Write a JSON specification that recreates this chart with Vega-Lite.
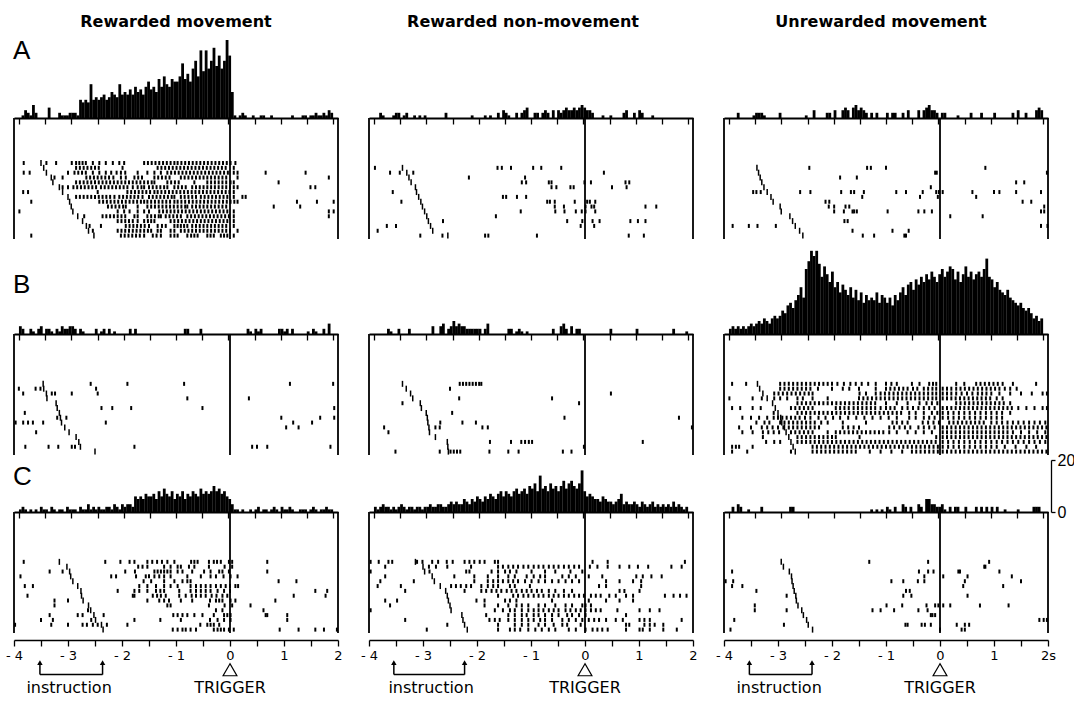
{
"$schema":"https://vega.github.io/schema/vega-lite/v6.json",
"autosize":{"type":"pad"},
"padding":{"left":5,"top":14,"right":0,"bottom":0},
"background":"white",
"config":{"view":{"stroke":null},"axis":{"grid":false}},
"datasets":{
"h":[
{"p":"A1","t":[-4,-3.95,-3.9,-3.85,-3.8,-3.75,-3.7,-3.65,-3.6,-3.55,-3.5,-3.45,-3.4,-3.35,-3.3,-3.25,-3.2,-3.15,-3.1,-3.05,-3,-2.95,-2.9,-2.85,-2.8,-2.75,-2.7,-2.65,-2.6,-2.55,-2.5,-2.45,-2.4,-2.35,-2.3,-2.25,-2.2,-2.15,-2.1,-2.05,-2,-1.95,-1.9,-1.85,-1.8,-1.75,-1.7,-1.65,-1.6,-1.55,-1.5,-1.45,-1.4,-1.35,-1.3,-1.25,-1.2,-1.15,-1.1,-1.05,-1,-0.95,-0.9,-0.85,-0.8,-0.75,-0.7,-0.65,-0.6,-0.55,-0.5,-0.45,-0.4,-0.35,-0.3,-0.25,-0.2,-0.15,-0.1,-0.05,0,0.05,0.1,0.15,0.2,0.25,0.3,0.35,0.4,0.45,0.5,0.55,0.6,0.65,0.7,0.75,0.8,0.85,0.9,0.95,1,1.05,1.1,1.15,1.2,1.25,1.3,1.35,1.4,1.45,1.5,1.55,1.6,1.65,1.7,1.75,1.8,1.85,1.9,1.95],
 "c":[0,1,3,2,1,5,2,0,0,0,0,4,0,0,0,2,1,1,1,2,2,2,1,7,6,7,6,13,7,8,7,8,9,7,8,10,9,8,13,9,10,9,11,9,12,10,11,9,12,14,11,12,10,15,12,16,13,12,15,14,14,16,21,15,17,14,19,22,16,26,18,26,19,22,27,20,24,19,22,30,24,10,1,0,1,2,1,0,0,1,0,0,1,1,0,0,1,0,0,0,0,0,0,0,1,0,0,0,1,1,0,1,1,2,1,1,2,1,3,2]},
{"p":"A2","t":[-3.9,-3.85,-3.65,-3.6,-3.55,-3.45,-3.4,-3.25,-3.15,-3.05,-2.65,-2.15,-1.9,-1.8,-1.65,-1.55,-1.5,-1.45,-1.3,-1.2,-1.15,-1.1,-0.95,-0.9,-0.8,-0.75,-0.7,-0.6,-0.5,-0.45,-0.4,-0.35,-0.3,-0.25,-0.2,-0.15,-0.1,-0.05,0,0.05,0.1,0.15,0.35,0.5,0.75,0.8,0.95,1.05,1.1,1.3],
 "c":[2,1,1,2,2,1,2,1,1,1,2,1,1,1,2,3,2,1,2,2,3,4,2,2,2,3,2,3,3,2,3,4,3,3,4,3,4,5,4,3,3,2,1,1,2,3,2,3,2,1]},
{"p":"A3","t":[-3.85,-3.55,-3.5,-3.45,-3.4,-3.35,-3.05,-2.55,-2.4,-2.15,-2.1,-2,-1.85,-1.8,-1.75,-1.65,-1.6,-1.55,-1.5,-1.45,-1.4,-1.3,-1.2,-1,-0.9,-0.85,-0.7,-0.6,-0.4,-0.3,-0.25,-0.2,-0.15,-0.1,-0.05,0.05,0.1,0.35,0.6,0.8,1.05,1.4,1.5,1.65,1.85,1.9,1.95],
 "c":[2,1,2,2,2,1,2,1,3,2,2,3,3,4,3,4,5,3,4,3,2,2,2,2,2,2,2,3,3,3,4,5,3,3,2,2,2,1,2,2,2,2,3,2,3,4,3]},
{"p":"B1","t":[-4,-3.95,-3.8,-3.75,-3.65,-3.6,-3.5,-3.45,-3.4,-3.3,-3.25,-3.2,-3.15,-3.1,-3.05,-3,-2.95,-2.85,-2.8,-2.55,-2.45,-2.4,-2.3,-2.2,-1.9,-1.8,-0.85,-0.8,-0.55,0.35,0.4,0.5,0.55,0.6,0.95,1,1.05,1.1,1.2,1.5,1.6,1.65,1.8,1.9],
 "c":[3,2,2,1,2,3,2,2,1,2,1,3,2,2,3,3,2,2,1,2,1,2,2,1,2,2,2,2,2,2,1,2,1,2,2,2,1,2,2,1,2,1,2,4]},
{"p":"B2","t":[-3.75,-3.7,-3.55,-3.35,-2.9,-2.75,-2.7,-2.6,-2.55,-2.5,-2.45,-2.4,-2.35,-2.3,-2.25,-2.2,-2.15,-2.1,-2.05,-2,-1.9,-1.85,-1.45,-1.4,-1.3,-1.25,-1.2,-1.1,-0.6,-0.45,-0.4,-0.35,-0.25,-0.15,-0.1,0.5,1,1.7,1.95],
 "c":[2,1,2,2,3,3,4,2,3,5,3,4,3,3,2,2,2,2,2,2,2,4,2,2,1,2,1,1,2,3,4,2,3,2,2,2,2,2,1]},
{"p":"B3","t":[-4,-3.95,-3.9,-3.85,-3.8,-3.75,-3.7,-3.65,-3.6,-3.55,-3.5,-3.45,-3.4,-3.35,-3.3,-3.25,-3.2,-3.15,-3.1,-3.05,-3,-2.95,-2.9,-2.85,-2.8,-2.75,-2.7,-2.65,-2.6,-2.55,-2.5,-2.45,-2.4,-2.35,-2.3,-2.25,-2.2,-2.15,-2.1,-2.05,-2,-1.95,-1.9,-1.85,-1.8,-1.75,-1.7,-1.65,-1.6,-1.55,-1.5,-1.45,-1.4,-1.35,-1.3,-1.25,-1.2,-1.15,-1.1,-1.05,-1,-0.95,-0.9,-0.85,-0.8,-0.75,-0.7,-0.65,-0.6,-0.55,-0.5,-0.45,-0.4,-0.35,-0.3,-0.25,-0.2,-0.15,-0.1,-0.05,0,0.05,0.1,0.15,0.2,0.25,0.3,0.35,0.4,0.45,0.5,0.55,0.6,0.65,0.7,0.75,0.8,0.85,0.9,0.95,1,1.05,1.1,1.15,1.2,1.25,1.3,1.35,1.4,1.45,1.5,1.55,1.6,1.65,1.7,1.75,1.8,1.85,1.9,1.95],
 "c":[2,3,2,3,2,3,2,3,4,3,4,5,4,6,5,4,6,7,6,7,9,8,11,12,10,13,15,18,14,25,28,32,30,32,27,22,26,23,20,24,18,20,16,19,17,15,18,14,17,13,16,12,15,13,14,13,16,12,15,14,12,14,11,15,13,16,18,15,19,20,17,21,19,22,20,23,21,24,22,20,23,25,22,24,26,25,21,24,20,23,26,22,24,21,23,24,22,25,29,22,21,18,20,17,16,15,17,14,13,12,11,12,10,9,10,8,6,7,5,6]},
{"p":"C1","t":[-4,-3.95,-3.9,-3.85,-3.8,-3.75,-3.7,-3.65,-3.6,-3.55,-3.5,-3.45,-3.4,-3.35,-3.3,-3.25,-3.2,-3.15,-3.1,-3.05,-3,-2.95,-2.9,-2.85,-2.8,-2.75,-2.7,-2.65,-2.6,-2.55,-2.5,-2.45,-2.4,-2.35,-2.3,-2.25,-2.2,-2.15,-2.1,-2.05,-2,-1.95,-1.9,-1.85,-1.8,-1.75,-1.7,-1.65,-1.6,-1.55,-1.5,-1.45,-1.4,-1.35,-1.3,-1.25,-1.2,-1.15,-1.1,-1.05,-1,-0.95,-0.9,-0.85,-0.8,-0.75,-0.7,-0.65,-0.6,-0.55,-0.5,-0.45,-0.4,-0.35,-0.3,-0.25,-0.2,-0.15,-0.1,-0.05,0,0.05,0.1,0.15,0.2,0.25,0.3,0.35,0.4,0.45,0.5,0.55,0.6,0.65,0.7,0.75,0.8,0.85,0.9,0.95,1,1.05,1.1,1.15,1.2,1.25,1.3,1.35,1.4,1.45,1.5,1.55,1.6,1.65,1.7,1.75,1.8,1.85,1.9,1.95],
 "c":[1,2,1,0,1,0,1,0,2,1,1,0,2,1,0,1,1,0,2,1,1,1,0,2,1,1,3,1,2,1,2,1,1,2,2,1,3,2,1,3,2,3,3,2,6,5,6,5,7,6,6,7,5,8,6,9,7,6,8,5,7,6,8,5,7,6,8,7,6,9,7,8,7,8,10,8,9,7,8,6,5,3,1,1,0,1,0,0,1,0,1,2,0,1,1,0,1,2,1,0,2,1,1,2,1,0,0,1,1,1,0,1,2,1,0,1,1,2,1,1]},
{"p":"C2","t":[-4,-3.95,-3.9,-3.85,-3.8,-3.75,-3.7,-3.65,-3.6,-3.55,-3.5,-3.45,-3.4,-3.35,-3.3,-3.25,-3.2,-3.15,-3.1,-3.05,-3,-2.95,-2.9,-2.85,-2.8,-2.75,-2.7,-2.65,-2.6,-2.55,-2.5,-2.45,-2.4,-2.35,-2.3,-2.25,-2.2,-2.15,-2.1,-2.05,-2,-1.95,-1.9,-1.85,-1.8,-1.75,-1.7,-1.65,-1.6,-1.55,-1.5,-1.45,-1.4,-1.35,-1.3,-1.25,-1.2,-1.15,-1.1,-1.05,-1,-0.95,-0.9,-0.85,-0.8,-0.75,-0.7,-0.65,-0.6,-0.55,-0.5,-0.45,-0.4,-0.35,-0.3,-0.25,-0.2,-0.15,-0.1,-0.05,0,0.05,0.1,0.15,0.2,0.25,0.3,0.35,0.4,0.45,0.5,0.55,0.6,0.65,0.7,0.75,0.8,0.85,0.9,0.95,1,1.05,1.1,1.15,1.2,1.25,1.3,1.35,1.4,1.45,1.5,1.55,1.6,1.65,1.7,1.75,1.8,1.85,1.9,1.95],
 "c":[2,1,2,3,2,2,1,2,1,2,3,2,1,2,2,1,2,2,1,2,2,3,2,2,3,3,2,2,3,4,3,4,3,3,5,4,3,5,4,6,5,4,6,5,7,6,5,7,8,6,8,7,6,8,9,7,8,9,7,10,9,11,8,14,9,10,8,11,9,10,8,10,12,9,11,12,10,9,11,16,8,6,7,6,5,5,4,6,5,4,4,3,4,5,7,3,4,3,3,4,3,2,4,3,2,3,4,2,3,2,3,2,3,2,4,2,3,2,1,2]},
{"p":"C3","t":[-3.95,-3.85,-3.8,-3.65,-3.4,-2.85,-2.8,-1.3,-1.2,-1.1,-1,-0.95,-0.85,-0.7,-0.65,-0.55,-0.4,-0.35,-0.25,-0.2,-0.15,-0.1,-0.05,0,0.05,0.1,0.2,0.3,0.35,0.5,0.7,0.8,0.9,1,1.1,1.25,1.5,1.8,1.85,1.9],
 "c":[2,3,2,1,2,2,2,1,1,1,2,1,2,3,2,2,3,2,5,5,3,3,2,2,3,1,2,2,2,2,2,2,2,2,2,1,1,2,2,2]}
],
"r":[
{"p":"A1","r":16,"i":-3.5,"s":[-3.82,-3.4,-3.22,-2.93,-2.85,-2.79,-2.73,-2.67,-2.54,-2.42,-2.3,-2.17,-2.05,-1.96,-1.59,-1.52,-1.45,-1.38,-1.31,-1.24,-1.17,-1.1,-1.03,-0.97,-0.9,-0.83,-0.76,-0.69,-0.62,-0.55,-0.48,-0.41,-0.34,-0.27,-0.2,-0.13,-0.06,0.01,0.1]},
{"p":"A1","r":15,"i":-3.45,"s":[-2.85,-2.78,-2.71,-2.64,-2.57,-2.5,-2.43,-1.99,-1.34,-1.27,-1.2,-1.13,-1.06,-0.99,-0.92,-0.85,-0.78,-0.71,-0.64,-0.57,-0.5,-0.43,-0.36,-0.29,-0.22,-0.15,-0.08,0.07]},
{"p":"A1","r":14,"i":-3.4,"s":[-3.82,-3.71,-3,-2.88,-2.81,-2.74,-2.67,-2.54,-2.42,-2.3,-2.2,-2.1,-2.02,-1.94,-1.71,-1.53,-1.4,-1.28,-1.16,-1.09,-1.02,-0.95,-0.88,-0.81,-0.74,-0.67,-0.6,-0.53,-0.46,-0.39,-0.32,-0.25,-0.18,-0.11,-0.04,0.07,0.14,0.66,1.4]},
{"p":"A1","r":13,"i":-3.31,"s":[-3.25,-3.1,-2.66,-2.59,-2.52,-2.45,-2.38,-2.31,-2.24,-2.16,-2.02,-1.93,-1.77,-1.7,-1.63,-1.4,-1.33,-1.26,-1.19,-1.12,-0.91,-0.84,-0.77,-0.7,-0.63,-0.56,-0.49,-0.42,-0.35,-0.28,-0.21,-0.14,-0.07,0.14,1.83]},
{"p":"A1","r":12,"i":-3.28,"s":[-2.85,-2.78,-2.71,-2.64,-2.57,-2.5,-2.43,-2.36,-2.29,-2.22,-2.15,-2.08,-2.01,-1.94,-1.87,-1.8,-1.73,-1.66,-1.59,-1.52,-1.45,-1.4,-1.16,-1.09,-1.02,-0.95,-0.66,-0.42,-0.35,-0.28,-0.21,-0.14,-0.07,0.01,0.07,0.9]},
{"p":"A1","r":11,"i":-3.16,"s":[-3.1,-3,-2.9,-2.83,-2.76,-2.69,-2.62,-2.55,-2.48,-2.39,-2.32,-2.25,-2.18,-2.11,-2.04,-1.97,-1.9,-1.8,-1.71,-1.64,-1.59,-1.5,-1.43,-1.36,-1.29,-1.22,-1.16,-1.03,-0.96,-0.89,-0.82,-0.7,-0.63,-0.56,-0.49,-0.42,-0.35,-0.28,-0.21,-0.14,-0.07,0,0.07,0.14,1.49,1.58]},
{"p":"A1","r":10,"i":-3.1,"s":[-3.83,-3.74,-2.45,-1.9,-1.83,-1.76,-1.69,-1.62,-1.55,-1.48,-1.4,-1.34,-1.27,-1.2,-1.13,-1.06,-0.99,-0.92,-0.85,-0.78,-0.71,-0.64,-0.57,-0.5,-0.43,-0.36,-0.29,-0.22,-0.15,-0.08,-0.01,0.07]},
{"p":"A1","r":9,"i":-3,"s":[-2.85,-2.78,-2.71,-2.64,-2.57,-2.5,-2.43,-2.36,-2.29,-2.22,-2.14,-2.05,-1.98,-1.91,-1.84,-1.77,-1.7,-1.62,-1.5,-1.43,-1.36,-1.29,-1.22,-1.15,-1.08,-1.03,-0.91,-0.84,-0.77,-0.7,-0.63,-0.54,-0.47,-0.4,-0.33,-0.26,-0.19,-0.12,-0.05,0.07,0.23,0.29]},
{"p":"A1","r":8,"i":-2.97,"s":[-3.68,-2.42,-2.35,-2.28,-2.21,-2.14,-2.07,-2,-1.93,-1.86,-1.79,-1.72,-1.65,-1.59,-1.53,-1.46,-1.39,-1.32,-1.25,-1.18,-1.11,-1.03,-0.97,-0.9,-0.83,-0.76,-0.69,-0.62,-0.55,-0.48,-0.41,-0.34,-0.27,-0.2,-0.13,-0.06,0.01,0.08,0.14,1.24,1.61,1.92]},
{"p":"A1","r":7,"i":-2.94,"s":[-2.26,-2.19,-2.12,-2.05,-1.98,-1.93,-1.71,-1.53,-1.46,-1.39,-1.32,-1.25,-1.18,-1.11,-1.04,-0.97,-0.9,-0.83,-0.79,-0.7,-0.63,-0.56,-0.49,-0.42,-0.35,-0.28,-0.21,-0.14,-0.07,0.81,1.3]},
{"p":"A1","r":6,"i":-2.91,"s":[-3.9,-2.08,-1.96,-1.86,-1.71,-1.59,-1.5,-1.31,-1.24,-1.17,-1.1,-1.03,-0.96,-0.89,-0.82,-0.75,-0.68,-0.61,-0.54,-0.47,-0.4,-0.33,-0.26,-0.19,-0.12,-0.05,0.07,1.83,1.92]},
{"p":"A1","r":5,"i":-2.82,"s":[-2.7,-2.36,-2.29,-2.22,-2.15,-2.08,-2.01,-1.94,-1.77,-1.71,-1.53,-1.46,-1.39,-1.32,-1.28,-1.19,-1.12,-1.05,-0.98,-0.91,-0.79,-0.72,-0.65,-0.58,-0.51,-0.44,-0.37,-0.3,-0.23,-0.16,-0.09,-0.02,0.07,1.83]},
{"p":"A1","r":4,"i":-2.73,"s":[-2.08,-2.01,-1.94,-1.87,-1.8,-1.71,-1.59,-1.52,-1.46,-1.4,-1.1,-1.03,-0.96,-0.89,-0.82,-0.75,-0.68,-0.61,-0.54,-0.47,-0.4,-0.33,-0.26,-0.19,-0.12,-0.05,0.07]},
{"p":"A1","r":3,"i":-2.66,"s":[-2.6,-2.39,-1.93,-1.86,-1.79,-1.72,-1.65,-1.58,-1.5,-1.34,-1.26,-1.19,-1.03,-0.97,-0.91,-0.85,-0.79,-0.7,-0.63,-0.56,-0.49,-0.42,-0.35,-0.28,-0.21,-0.14,-0.07,0.07]},
{"p":"A1","r":2,"i":-2.62,"s":[-2.54,-2.08,-2.01,-1.94,-1.87,-1.8,-1.73,-1.66,-1.59,-1.52,-1.46,-1.34,-1.28,-1.1,-1.03,-0.91,-0.84,-0.77,-0.7,-0.63,-0.56,-0.49,-0.42,-0.35,-0.28,-0.21,-0.14,-0.07,0,0.14]},
{"p":"A1","r":1,"i":-2.52,"s":[-3.68,-2.02,-1.95,-1.88,-1.81,-1.74,-1.67,-1.59,-1.43,-1.36,-1.28,-1.1,-1.03,-0.97,-0.79,-0.72,-0.66,-0.6,-0.42,-0.36,-0.3,-0.17,-0.11,-0.05,0.07]},
{"p":"A2","r":15,"i":-3.38,"s":[-3.89,-1.62,-1.54,-1.37,-0.96,-0.81,-0.44]},
{"p":"A2","r":14,"i":-3.3,"s":[-3.61,-3.43,-3.18,0.35]},
{"p":"A2","r":13,"i":-3.26,"s":[-2.15,-1.11]},
{"p":"A2","r":12,"i":-3.22,"s":[-1.17,-1.09,-0.67,-0.62,-0.01,0.11,0.75,0.82]},
{"p":"A2","r":11,"i":-3.14,"s":[-0.62,-0.53,-0.27,-0.21,0.5,0.77]},
{"p":"A2","r":10,"i":-3.12,"s":[-3.56]},
{"p":"A2","r":9,"i":-3.08,"s":[-1.52,-1.46,-1.26,-1.09]},
{"p":"A2","r":8,"i":-3.04,"s":[-3.4,-0.7,-0.65,-0.56,-0.19,0.04,0.09,0.19]},
{"p":"A2","r":7,"i":-3.01,"s":[-0.56,-0.39,0.01,0.12,0.17,1.12,1.32]},
{"p":"A2","r":6,"i":-2.97,"s":[-1.19,-0.55,-0.38,-0.17,-0.06,0.01,0.19]},
{"p":"A2","r":5,"i":-2.93,"s":[-1.65]},
{"p":"A2","r":4,"i":-2.9,"s":[-2.63,-0.33,-0.05,0.14,0.27,0.84,0.98,1.12]},
{"p":"A2","r":3,"i":-2.86,"s":[-3.67,-3.5,-0.08,0.17]},
{"p":"A2","r":2,"i":-2.82,"s":[-3.84]},
{"p":"A2","r":1,"i":-2.54,"s":[-3.05,-2.64,-1.85,-1.79,-0.89,0.81,1.09]},
{"p":"A3","r":15,"i":-3.39,"s":[-2.42,-1.35,-1.28,-1,0.84]},
{"p":"A3","r":14,"i":-3.36,"s":[-0.09,-0.06,1.98]},
{"p":"A3","r":13,"i":-3.33,"s":[-1.85,-1.54]},
{"p":"A3","r":12,"i":-3.3,"s":[1.41,1.56]},
{"p":"A3","r":11,"i":-3.26,"s":[-0.17]},
{"p":"A3","r":10,"i":-3.2,"s":[-3.46,-3.4,-3.32,-2.59,-2.4,-1.83,-1.65,-1.59,-1.41,-0.81,-0.63,-0.32,-0.07,-0.02,0.05,0.6,1,1.1,1.41,1.87]},
{"p":"A3","r":9,"i":-3.13,"s":[-1.44,-0.37,-0.04,0.67]},
{"p":"A3","r":8,"i":-3.09,"s":[-2.12,-2.05,1.53,1.69]},
{"p":"A3","r":7,"i":-2.96,"s":[-2.06,-1.96,-1.75,-1.68,1.93]},
{"p":"A3","r":6,"i":-2.94,"s":[-1.96,-1.78,-1.62,-1.59,-1.54,-0.97,-0.4,-0.29,-0.15,1.87,1.93]},
{"p":"A3","r":5,"i":-2.78,"s":[0.19,0.79]},
{"p":"A3","r":4,"i":-2.73,"s":[-1.77,-1.71]},
{"p":"A3","r":3,"i":-2.68,"s":[-3.84,-3.54,-3.38,-3.04,1.87,1.99]},
{"p":"A3","r":2,"i":-2.6,"s":[-1.62,-0.88,-0.58]},
{"p":"A3","r":1,"i":-2.54,"s":[-1.43,-1.22,-0.66,-0.63]},
{"p":"B1","r":15,"i":-3.46,"s":[-2.58,-1.9,-0.85,1.11,1.91]},
{"p":"B1","r":14,"i":-3.45,"s":[-3.91,-3.6,-3.51,-2.48]},
{"p":"B1","r":13,"i":-3.4,"s":[-3.83,-3.3,-3.24,-2.93,-2.45]},
{"p":"B1","r":12,"i":-3.39,"s":[-0.79,0.35]},
{"p":"B1","r":11,"i":-3.22,"s":[]},
{"p":"B1","r":10,"i":-3.2,"s":[-2.38,-2.18,-1.83,-0.51,1.93]},
{"p":"B1","r":9,"i":-3.16,"s":[-3.8]},
{"p":"B1","r":8,"i":-3.14,"s":[-3.2,-3.03,0.95,1.67,1.93]},
{"p":"B1","r":7,"i":-3.12,"s":[-3.97,-3.83,-3.74,-3.65,-3.46,-2.3,1.17,1.52]},
{"p":"B1","r":6,"i":-3.06,"s":[1.04,1.27]},
{"p":"B1","r":5,"i":-2.98,"s":[-3.59]},
{"p":"B1","r":4,"i":-2.85,"s":[]},
{"p":"B1","r":3,"i":-2.8,"s":[]},
{"p":"B1","r":2,"i":-2.77,"s":[-3.79,-3.36,-3.18,-2.93,-2.87,-1.77,0.41,0.5,0.69,1.86]},
{"p":"B1","r":1,"i":-2.5,"s":[]},
{"p":"B2","r":15,"i":-3.38,"s":[-2.32,-2.26,-2.2,-2.14,-2.08,-2.02,-1.96,-1.92]},
{"p":"B2","r":14,"i":-3.31,"s":[-2.5]},
{"p":"B2","r":13,"i":-3.23,"s":[0.48]},
{"p":"B2","r":12,"i":-3.19,"s":[-2.33,-0.61]},
{"p":"B2","r":11,"i":-3.05,"s":[-3.38,-0.11]},
{"p":"B2","r":10,"i":-3.03,"s":[]},
{"p":"B2","r":9,"i":-2.94,"s":[-2.46]},
{"p":"B2","r":8,"i":-2.92,"s":[-0.38,1.74]},
{"p":"B2","r":7,"i":-2.91,"s":[-2.68,-2.27,-2.02]},
{"p":"B2","r":6,"i":-2.89,"s":[-3.72,-2.77,-2.69,-1.9,-1.8,1.98]},
{"p":"B2","r":5,"i":-2.88,"s":[-3.64]},
{"p":"B2","r":4,"i":-2.77,"s":[]},
{"p":"B2","r":3,"i":-2.55,"s":[-1.76,-1.37,-1.18,-1.11,-1.04,-0.98,1.07]},
{"p":"B2","r":2,"i":-2.54,"s":[-0.02]},
{"p":"B2","r":1,"i":-2.53,"s":[-3.51,-2.69,-2.49,-2.43,-2.37,-2.31,-1.77,-1.42,-1.23,-0.41,-0.25]},
{"p":"B3","r":15,"i":-3.38,"s":[-3.85,-3.59,-2.96,-2.88,-2.8,-2.72,-2.64,-2.56,-2.48,-2.4,-2.32,-2.24,-2.16,-2.08,-2,-1.9,-1.78,-1.66,-1.56,-1.45,-1.33,-1.19,-1,-0.9,-0.8,-0.52,-0.38,-0.2,-0.13,-0.07,0.3,0.45,0.67,0.75,0.83,0.91,0.99,1.07,1.16,1.35,1.78]},
{"p":"B3","r":14,"i":-3.34,"s":[-2.96,-2.88,-2.8,-2.72,-2.64,-2.56,-2.48,-2.4,-2.26,-2,-1.8,-1.68,-1.5,-1.19,-1,-0.92,-0.84,-0.76,-0.68,-0.6,-0.5,-0.42,-0.3,-0.22,-0.14,-0.07,0.05,0.13,0.21,0.3,0.38,0.46,0.54,0.62,0.7,0.78,0.86,0.94,1.02,1.1,1.2,1.3,1.42]},
{"p":"B3","r":13,"i":-3.28,"s":[-3.07,-2.99,-2.91,-2.83,-2.75,-2.67,-2.59,-2.51,-2.43,-2.36,-1.49,-1.37,-1.19,-1.1,-1.02,-0.94,-0.86,-0.78,-0.7,-0.62,-0.54,-0.46,-0.38,-0.3,-0.22,-0.14,-0.07,0.05,0.13,0.21,0.3,0.4,0.5,0.6,0.7,0.78,0.86,0.95,1.1,1.3,1.5,1.7,1.9,1.98]},
{"p":"B3","r":12,"i":-3.2,"s":[-3.9,-3.47,-3.3,-3.07,-2.96,-2.83,-2.64,-2.54,-2.36,-2.08,-1.5,-1.42,-1.34,-1.26,-1.18,-1.1,-1.02,-0.94,-0.86,-0.78,-0.7,-0.62,-0.54,-0.46,-0.38,-0.3,-0.22,-0.14,-0.07,0.05,0.13,0.21,0.29,0.37,0.45,0.53,0.61,0.69,0.77,0.85,0.93,1.05,1.16]},
{"p":"B3","r":11,"i":-3.1,"s":[-2.64,-2.56,-2.48,-2.4,-2.32,-2.24,-2.16,-2.08,-2,-1.92,-1.84,-1.76,-1.68,-1.6,-1.52,-1.44,-1.36,-1.28,-1.2,-1,-0.8,-0.6,-0.38,-0.25,-0.15,-0.05,0.3,0.38,0.46,0.54,0.62,0.7,0.78,0.86,0.94,1.02,1.1,1.18,1.3]},
{"p":"B3","r":10,"i":-3.05,"s":[-3.85,-3.7,-3.47,-3.32,-2.76,-2.68,-2.6,-2.52,-2.44,-2.36,-1.93,-1.85,-1.77,-1.69,-1.6,-1.52,-1.44,-1.36,-1.28,-1.2,-1.1,-1,-0.92,-0.84,-0.7,-0.6,-0.5,-0.4,-0.3,-0.2,-0.1,0.05,0.13,0.21,0.29,0.37,0.45,0.53,0.61,0.69,0.77,0.85,0.93,1.01,1.09,1.17,1.25,1.33,1.45,1.6,1.75,1.9,1.98]},
{"p":"B3","r":9,"i":-3,"s":[-3.08,-2.64,-2.56,-2.48,-2.4,-2.32,-2.24,-2.16,-2.08,-2,-1.92,-1.84,-1.76,-1.68,-1.6,-1.52,-1.44,-1.36,-1.28,-1.2,-1.12,-1.04,-0.96,-0.88,-0.8,-0.72,-0.57,-0.45,-0.3,-0.15,-0.05,0.05,0.15,0.25,0.35,0.45,0.55,0.65,0.75,0.85,0.95,1.05,1.15,1.3]},
{"p":"B3","r":8,"i":-2.95,"s":[-3.66,-3.5,-3.35,-3.2,-3.08,-3,-2.92,-2.84,-2.76,-2.68,-2.6,-2.5,-2.4,-2.25,-2.12,-1.98,-1.85,-1.7,-1.55,-1.4,-1.25,-1.1,-0.95,-0.8,-0.57,-0.45,-0.3,-0.2,-0.1,0.05,0.15,0.25,0.35,0.45,0.55,0.65,0.75,0.85,0.95,1.05,1.15]},
{"p":"B3","r":7,"i":-2.93,"s":[-3.4,-3.25,-3.16,-2.96,-2.88,-2.8,-2.72,-2.64,-2.56,-2.48,-2.4,-2.32,-2.2,-2.08,-1.8,-1.37,-0.88,-0.8,-0.7,-0.6,-0.32,-0.22,-0.12,-0.02,0.17,0.25,0.33,0.41,0.49,0.57,0.65,0.73,0.81,0.95,1.05,1.15,1.25,1.35,1.45,1.55,1.65,1.75,1.85,1.95]},
{"p":"B3","r":6,"i":-2.88,"s":[-3.72,-3.5,-3.3,-3.2,-3.1,-3,-2.9,-2.8,-2.72,-2.64,-2.56,-2.48,-2.4,-2.32,-2.24,-1.8,-1.7,-1.6,-1.5,-0.94,-0.85,-0.75,-0.65,-0.55,-0.4,-0.3,-0.2,-0.1,0.05,0.13,0.21,0.29,0.37,0.45,0.53,0.61,0.69,0.77,0.85,0.93,1.01,1.09,1.17,1.25,1.33,1.41,1.49,1.57,1.65,1.73,1.81,1.89,1.97]},
{"p":"B3","r":5,"i":-2.85,"s":[-3.66,-3.47,-3.28,-3.18,-3.08,-2.98,-2.76,-2.68,-2.6,-2.52,-2.44,-2.36,-2.08,-1.93,-1.85,-1.77,-1.69,-1.61,-1.53,-1.45,-1.37,-1.29,-1.21,-1.13,-1.05,-0.94,-0.8,-0.6,-0.45,-0.3,-0.15,0.05,0.13,0.21,0.29,0.37,0.45,0.53,0.61,0.69,0.77,0.85,0.93,1.01,1.09,1.17,1.25,1.35,1.5,1.65,1.8,1.95]},
{"p":"B3","r":4,"i":-2.8,"s":[-3.28,-2.64,-2.56,-2.48,-2.4,-2.32,-2.24,-2.16,-2.08,-2,-1.93,-1.49,-0.07,0.05,0.13,0.21,0.29,0.37,0.45,0.53,0.61,0.69,0.77,0.85,0.93,1.01,1.09,1.17,1.25,1.33,1.41,1.49,1.57,1.65,1.73,1.81,1.89,1.97]},
{"p":"B3","r":3,"i":-2.76,"s":[-3.22,-3.07,-2.96,-2.64,-2.56,-2.48,-2.4,-2.32,-2.24,-2.16,-2.08,-2,-1.92,-1.84,-1.76,-1.68,-1.6,-1.52,-1.44,-1.36,-1.28,-1.2,-1.12,-1.04,-0.96,-0.88,-0.8,-0.72,-0.64,-0.56,-0.48,-0.4,-0.32,-0.24,-0.16,-0.08,0.05,0.15,0.25,0.35,0.45,0.55,0.65,0.75,0.85,0.95,1.05,1.15,1.25,1.35,1.45,1.55,1.65,1.75,1.85,1.95]},
{"p":"B3","r":2,"i":-2.72,"s":[-3.85,-3.78,-3.72,-3.47,-2.36,-2.28,-2.2,-2.12,-2.04,-1.96,-1.88,-1.8,-1.72,-1.64,-1.56,-1.48,-1.4,-1.32,-1.24,-1.16,-1.08,-1,-0.92,-0.84,-0.76,-0.68,-0.6,-0.52,-0.44,-0.36,-0.28,-0.2,-0.12,-0.04,0.05,0.15,0.25,0.35,0.45,0.55,0.65,0.75,0.85,0.95,1.05,1.2,1.4,1.6,1.78]},
{"p":"B3","r":1,"i":-2.68,"s":[-3.85,-3.57,-2.76,-2.36,-2.28,-2.2,-2.12,-2.04,-1.96,-1.88,-1.8,-1.72,-1.64,-1.56,-1.3,-1.1,-0.9,-0.7,-0.52,-0.44,-0.36,-0.28,-0.2,-0.12,-0.04,0.05,0.13,0.21,0.29,0.37,0.45,0.53,0.61,0.69,0.77,0.85,0.93,1.01,1.09,1.17,1.25,1.33,1.41,1.49,1.57,1.65,1.73,1.81,1.89,1.97]},
{"p":"C1","r":15,"i":-3.16,"s":[-3.82,-2.31,-2.03,-1.86,-1.77,-1.53,-1.44,-1.35,-1.26,-1.16,-1.03,-0.72,-0.66,-0.6,-0.39,-0.3,-0.24,-0.17,-0.02,0.04,0.69]},
{"p":"C1","r":14,"i":-3.02,"s":[-1.7,-1.62,-1.53,-1.22,-1.1,-0.97,-0.91,-0.76,-0.66,-0.39,-0.1,0.04]},
{"p":"C1","r":13,"i":-2.97,"s":[-3.34,-3.1,-1.94,-1.76,-1.4,-1.34,-1.28,-1.22,-1.16,-1.1,-0.97,-0.88,-0.7,-0.48,-0.36,-0.2,-0.14,-0.02,0.69]},
{"p":"C1","r":12,"i":-2.95,"s":[-3.88,-2.2,-2.11,-1.74,-1.56,-1.5,-1.4,-1.31,-1.22,-1.1,-0.79,-0.54,-0.36,-0.26,-0.12,0.01,0.14]},
{"p":"C1","r":11,"i":-2.91,"s":[-1.6,-1.46,-1.22,-1.03,-0.88,-0.79,-0.73,0.9,1.23]},
{"p":"C1","r":10,"i":-2.82,"s":[-3.8,-3.65,-1.68,-1.53,-1.37,-1.22,-1.1,-0.97,-0.73,-0.63,-0.54,-0.45,-0.36,-0.26,-0.17,-0.08,0,0.1,0.15]},
{"p":"C1","r":9,"i":-2.76,"s":[-2.08,-1.77,-1.68,-1.53,-1.37,-1.29,-1.22,-0.94,-0.73,-0.63,-0.54,-0.45,-0.36,-0.23,-0.11,0,1.58,1.8]},
{"p":"C1","r":8,"i":-2.75,"s":[-3.75,-1.8,-1.77,-1.43,-1.35,-1.28,-1.19,-0.94,-0.82,-0.71,-0.63,-0.54,-0.45,-0.34,-0.25,-0.14,-0.05,1.18,1.77]},
{"p":"C1","r":7,"i":-2.72,"s":[-3.25,-3,-1.53,-1.31,-1.22,-1.13,-0.91,-0.7,-0.37,-0.26,-0.2,-0.14,0.01,0.1,0.84]},
{"p":"C1","r":6,"i":-2.62,"s":[-3.25,-1.16,-1.1,-0.39,-0.1,0.04,0.38]},
{"p":"C1","r":5,"i":-2.58,"s":[-2.63,-0.26,-0.14,0.62]},
{"p":"C1","r":4,"i":-2.52,"s":[-3.34,-2.82,-2.73,-2.34,-1.05,-0.97,-0.88,-0.79,-0.66,-0.51,-0.3,-0.11,-0.05,0.01,0.66,0.69,1.06]},
{"p":"C1","r":3,"i":-2.49,"s":[-3.5,-3.28,-2.57,-1.77,-1.29,-0.91,-0.37,-0.23,-0.11,0.01,1.06]},
{"p":"C1","r":2,"i":-2.38,"s":[-3.98,-3.31,-3,-2.73,-2.65,-2.54,-2.45,-2.28,-1.9,-0.55,-0.42,-0.36,-0.3,-0.2]},
{"p":"C1","r":1,"i":-2.35,"s":[-1.06,-0.97,-0.88,-0.82,-0.73,-0.63,-0.3,-0.23,-0.17,-0.11,-0.02,0.07,0.92,1.27,1.58,1.74,1.98]},
{"p":"C2","r":15,"i":-3.14,"s":[-3.97,-3.82,-3.64,-3.57,-3.11,-3.01,-2.83,-2.72,-2.56,-2.45,-2.23,-2.14,-2.05,-1.95,-1.86,-1.67,-1.61,0.14,0.42,1.85]},
{"p":"C2","r":14,"i":-3,"s":[-3.7,-2.89,-2.76,-2.55,-2.11,-1.61,-1.52,-1.42,-1.33,-1.24,-1.14,-1.05,-0.95,-0.86,-0.77,-0.67,-0.58,-0.49,-0.39,-0.3,-0.2,-0.11,0.09,0.23,0.42,0.64,0.82,0.98,1.17,1.6,1.79]},
{"p":"C2","r":13,"i":-2.97,"s":[-3.97,-2.88,-2.2,-2.14,-1.73,-1.61,-1.48,-1.39,-1.27,-0.99,-0.74,-0.55,-0.27,-0.05]},
{"p":"C2","r":12,"i":-2.83,"s":[-3.7,-2.42,-2.05,-1.8,-1.61,-1.42,-1.3,-1.08,-0.95,-0.83,-0.74,-0.42,-0.3,-0.17,0.07,0.32,0.95,1.07,1.23,1.42]},
{"p":"C2","r":11,"i":-2.79,"s":[-3.79,-3.17,-2.05,-1.8,-1.7,-1.61,-1.52,-1.42,-1.33,-1.24,-1.11,-0.99,-0.86,-0.74,-0.61,-0.49,-0.36,-0.24,-0.11,0.39,0.64,0.89,1.04]},
{"p":"C2","r":10,"i":-2.68,"s":[-3.84,-3.41,-2.48,-2.39,-2.3,-2.2,-2.11,-1.92,-1.8,-1.7,-1.61,-1.39,-1.3,-1.02,0.26,0.39,1.04]},
{"p":"C2","r":9,"i":-2.58,"s":[-3.33,-2.23,-1.92,-1.83,-1.73,-1.64,-1.55,-1.45,-1.36,-1.27,-1.17,-1.08,-0.99,-0.89,-0.8,-0.67,-0.55,-0.39,-0.24,0.64,0.73,1.01]},
{"p":"C2","r":8,"i":-2.55,"s":[-1.61,-1.33,-1.24,-1.14,-1.05,-0.95,-0.86,-0.77,-0.67,-0.58,-0.49,-0.39,-0.3,-0.2,-0.11,-0.02,0.11,0.2,0.29,0.45,0.57,0.76,0.89,1.48,1.64,1.76,1.88]},
{"p":"C2","r":7,"i":-2.53,"s":[-3.7,-3.48,-2.01,-1.86,-1.48,-1.39,-1.27,-0.61,0.07,0.39,0.64,0.89]},
{"p":"C2","r":6,"i":-2.5,"s":[-3.61,-1.86,-1.61,-1.42,-1.27,-1.17,-1.05,-0.86,-0.74,-0.55,-0.36,-0.24,-0.05,0.01,0.11]},
{"p":"C2","r":5,"i":-2.48,"s":[-3.97,-1.67,-1.52,-1.39,-1.3,-1.17,-1.05,-0.95,-0.86,-0.77,-0.67,-0.58,-0.49,-0.36,-0.27,-0.17,-0.08,0.01,0.11,0.2,0.29,0.6,1.01,1.2,1.38]},
{"p":"C2","r":4,"i":-2.28,"s":[-1.83,-1.42,-1.3,-1.17,-1.08,-0.95,-0.86,-0.74,-0.61,-0.49,-0.33,-0.24,-0.11,0.01,0.76]},
{"p":"C2","r":3,"i":-2.26,"s":[-3.33,-1.77,-1.67,-1.58,-1.42,-1.3,-1.17,-1.05,-0.95,-0.83,-0.74,-0.61,-0.42,-0.3,-0.17,-0.05,0.07,0.17,0.26,0.39,0.57,0.7,1.01,1.1,1.2,1.79]},
{"p":"C2","r":2,"i":-2.23,"s":[-2.55,-1.61,-1.3,-1.17,-1.05,-0.86,-0.74,-0.58,-0.42,-0.33,-0.08,0.76,0.82,1.1,1.2,1.29,1.45]},
{"p":"C2","r":1,"i":-2.18,"s":[-2.93,-1.61,-1.39,-1.3,-1.2,-1.05,-0.92,-0.8,-0.67,-0.55,-0.3,-0.17,0.01,0.14,0.23,0.32,0.42,0.76,1.01,1.07,1.2,1.45,1.7]},
{"p":"C3","r":15,"i":-2.94,"s":[-1.31,-0.22,0.91]},
{"p":"C3","r":14,"i":-2.9,"s":[0.82,0.84]},
{"p":"C3","r":13,"i":-2.79,"s":[-3.85,-0.39,-0.22,-0.12,0.34,0.37,1.1]},
{"p":"C3","r":12,"i":-2.75,"s":[-0.29,0.06,0.51,1.33]},
{"p":"C3","r":11,"i":-2.74,"s":[-3.97,-3.83,-0.9,-0.68,-0.41,-0.29,0.46,1.5]},
{"p":"C3","r":10,"i":-2.72,"s":[-3.85,-3.66,0.43,1.17]},
{"p":"C3","r":9,"i":-2.7,"s":[-3.4,-0.63,-0.56]},
{"p":"C3","r":8,"i":-2.67,"s":[-2.84,-0.68,-0.53,0.51]},
{"p":"C3","r":7,"i":-2.66,"s":[]},
{"p":"C3","r":6,"i":-2.63,"s":[-3.43,-0.99,-0.7,-0.25,-0.09,-0.03,0.06,0.19,0.74,1.27]},
{"p":"C3","r":5,"i":-2.56,"s":[-3.43,-2.84,-1.25,-1.1,-0.85,-0.4,-0.23]},
{"p":"C3","r":4,"i":-2.53,"s":[-0.17,-0.14,-0.09]},
{"p":"C3","r":3,"i":-2.47,"s":[-3.81,1.84,1.92,1.98]},
{"p":"C3","r":2,"i":-2.44,"s":[-2.89,-0.64,-0.6,-0.34,-0.28,-0.17,0.31,0.46,0.54]},
{"p":"C3","r":1,"i":-2.36,"s":[-3.88,0,0.4,0.46]}
],
"fr":[{"x":-4},{"x":0},{"x":2}],
"ar":[{"p":"C1","a":-3.52},{"p":"C1","a":-2.36},{"p":"C2","a":-3.54},{"p":"C2","a":-2.23},{"p":"C3","a":-3.53},{"p":"C3","a":-2.37}],
"br":[{"p":"C1","a":-3.52,"b":-2.36,"m":-2.98},{"p":"C2","a":-3.54,"b":-2.23,"m":-2.85},{"p":"C3","a":-3.53,"b":-2.37,"m":-2.98}]
},
"columns":3,
"spacing":{"row":0,"column":31},
"bounds":"flush",
"concat":[
  {"width":324,"height":84,
   "title":{"text":"Rewarded movement","font":"DejaVu Sans","fontSize":16,"fontWeight":"bold","color":"#000","anchor":"middle","baseline":"alphabetic","offset":6,"dy":15},
   "resolve":{"axis":{"x":"independent","y":"independent"}},
   "layer":[
    {"data":{"name":"h"},"transform":[{"filter":"datum.p=='A1'"},{"flatten":["t","c"]}],"mark":{"type":"bar","width":2.8,"xOffset":1.35,"color":"#000","opacity":1},"encoding":{"x":{"field":"t","type":"quantitative","scale":{"domain":[-4,2],"nice":false,"zero":false},"axis":{"orient":"bottom","values":[-4,-3.5,-3,-2.5,-2,-1.5,-1,-0.5,0,0.5,1,1.5,2],"labels":false,"tickSize":6,"tickWidth":1.3,"domainWidth":2,"grid":false,"title":null,"domainColor":"#000","tickColor":"#000"}},"y":{"field":"c","type":"quantitative","scale":{"domain":[0,32.3],"nice":false},"axis":null}}},
    {"data":{"values":[{}]},"mark":{"type":"text","font":"Liberation Sans","fontSize":26,"align":"left","baseline":"alphabetic","dx":-6,"color":"#000"},"encoding":{"x":{"datum":-4,"axis":null},"y":{"datum":22.6,"axis":null},"text":{"value":"A"}}}
   ]},
  {"width":324,"height":84,
   "title":{"text":"Rewarded non-movement","font":"DejaVu Sans","fontSize":16,"fontWeight":"bold","color":"#000","anchor":"middle","baseline":"alphabetic","offset":6,"dy":15,"dx":-8},
   "data":{"name":"h"},"transform":[{"filter":"datum.p=='A2'"},{"flatten":["t","c"]}],"mark":{"type":"bar","width":2.8,"xOffset":1.35,"color":"#000","opacity":1},"encoding":{"x":{"field":"t","type":"quantitative","scale":{"domain":[-4,2],"nice":false,"zero":false},"axis":{"orient":"bottom","values":[-4,-3.5,-3,-2.5,-2,-1.5,-1,-0.5,0,0.5,1,1.5,2],"labels":false,"tickSize":6,"tickWidth":1.3,"domainWidth":2,"grid":false,"title":null,"domainColor":"#000","tickColor":"#000"}},"y":{"field":"c","type":"quantitative","scale":{"domain":[0,32.3],"nice":false},"axis":null}}},
  {"width":324,"height":84,
   "title":{"text":"Unrewarded movement","font":"DejaVu Sans","fontSize":16,"fontWeight":"bold","color":"#000","anchor":"middle","baseline":"alphabetic","offset":6,"dy":15,"dx":-5},
   "data":{"name":"h"},"transform":[{"filter":"datum.p=='A3'"},{"flatten":["t","c"]}],"mark":{"type":"bar","width":2.8,"xOffset":1.35,"color":"#000","opacity":1},"encoding":{"x":{"field":"t","type":"quantitative","scale":{"domain":[-4,2],"nice":false,"zero":false},"axis":{"orient":"bottom","values":[-4,-3.5,-3,-2.5,-2,-1.5,-1,-0.5,0,0.5,1,1.5,2],"labels":false,"tickSize":6,"tickWidth":1.3,"domainWidth":2,"grid":false,"title":null,"domainColor":"#000","tickColor":"#000"}},"y":{"field":"c","type":"quantitative","scale":{"domain":[0,32.3],"nice":false},"axis":null}}},
  {"width":324,"height":121,"layer":[
    {"data":{"name":"r"},"transform":[{"filter":"datum.p=='A1'"},{"flatten":["s"]}],"mark":{"type":"tick","orient":"vertical","size":4,"thickness":2,"color":"#000","opacity":1},"encoding":{"x":{"field":"s","type":"quantitative","scale":{"domain":[-4,2],"nice":false,"zero":false},"axis":null},"y":{"field":"r","type":"quantitative","scale":{"domain":[0.3,25.3],"nice":false,"zero":false},"axis":null}}},
    {"data":{"name":"r"},"transform":[{"filter":"datum.p=='A1'"}],"mark":{"type":"tick","orient":"vertical","size":6,"thickness":1.5,"color":"#000","opacity":1},"encoding":{"x":{"field":"i","type":"quantitative","axis":null},"y":{"field":"r","type":"quantitative","axis":null}}},
    {"data":{"name":"fr"},"mark":{"type":"rule","strokeWidth":1.8,"color":"#000"},"encoding":{"x":{"field":"x","type":"quantitative","axis":null},"y":{"datum":0.3,"axis":null},"y2":{"datum":25.3}}}
  ]},
  {"width":324,"height":121,"layer":[
    {"data":{"name":"r"},"transform":[{"filter":"datum.p=='A2'"},{"flatten":["s"]}],"mark":{"type":"tick","orient":"vertical","size":4,"thickness":2,"color":"#000","opacity":1},"encoding":{"x":{"field":"s","type":"quantitative","scale":{"domain":[-4,2],"nice":false,"zero":false},"axis":null},"y":{"field":"r","type":"quantitative","scale":{"domain":[0.3,25.3],"nice":false,"zero":false},"axis":null}}},
    {"data":{"name":"r"},"transform":[{"filter":"datum.p=='A2'"}],"mark":{"type":"tick","orient":"vertical","size":6,"thickness":1.5,"color":"#000","opacity":1},"encoding":{"x":{"field":"i","type":"quantitative","axis":null},"y":{"field":"r","type":"quantitative","axis":null}}},
    {"data":{"name":"fr"},"mark":{"type":"rule","strokeWidth":1.8,"color":"#000"},"encoding":{"x":{"field":"x","type":"quantitative","axis":null},"y":{"datum":0.3,"axis":null},"y2":{"datum":25.3}}}
  ]},
  {"width":324,"height":121,"layer":[
    {"data":{"name":"r"},"transform":[{"filter":"datum.p=='A3'"},{"flatten":["s"]}],"mark":{"type":"tick","orient":"vertical","size":4,"thickness":2,"color":"#000","opacity":1},"encoding":{"x":{"field":"s","type":"quantitative","scale":{"domain":[-4,2],"nice":false,"zero":false},"axis":null},"y":{"field":"r","type":"quantitative","scale":{"domain":[0.3,25.3],"nice":false,"zero":false},"axis":null}}},
    {"data":{"name":"r"},"transform":[{"filter":"datum.p=='A3'"}],"mark":{"type":"tick","orient":"vertical","size":6,"thickness":1.5,"color":"#000","opacity":1},"encoding":{"x":{"field":"i","type":"quantitative","axis":null},"y":{"field":"r","type":"quantitative","axis":null}}},
    {"data":{"name":"fr"},"mark":{"type":"rule","strokeWidth":1.8,"color":"#000"},"encoding":{"x":{"field":"x","type":"quantitative","axis":null},"y":{"datum":0.3,"axis":null},"y2":{"datum":25.3}}}
  ]},
  {"width":324,"height":95,
   "resolve":{"axis":{"x":"independent","y":"independent"}},
   "layer":[
    {"data":{"name":"h"},"transform":[{"filter":"datum.p=='B1'"},{"flatten":["t","c"]}],"mark":{"type":"bar","width":2.8,"xOffset":1.35,"color":"#000","opacity":1},"encoding":{"x":{"field":"t","type":"quantitative","scale":{"domain":[-4,2],"nice":false,"zero":false},"axis":{"orient":"bottom","values":[-4,-3.5,-3,-2.5,-2,-1.5,-1,-0.5,0,0.5,1,1.5,2],"labels":false,"tickSize":6,"tickWidth":1.3,"domainWidth":2,"grid":false,"title":null,"domainColor":"#000","tickColor":"#000"}},"y":{"field":"c","type":"quantitative","scale":{"domain":[0,36.54],"nice":false},"axis":null}}},
    {"data":{"values":[{}]},"mark":{"type":"text","font":"Liberation Sans","fontSize":26,"align":"left","baseline":"alphabetic","dx":-6,"color":"#000"},"encoding":{"x":{"datum":-4,"axis":null},"y":{"datum":15.9,"axis":null},"text":{"value":"B"}}}
   ]},
  {"width":324,"height":95,
   "data":{"name":"h"},"transform":[{"filter":"datum.p=='B2'"},{"flatten":["t","c"]}],"mark":{"type":"bar","width":2.8,"xOffset":1.35,"color":"#000","opacity":1},"encoding":{"x":{"field":"t","type":"quantitative","scale":{"domain":[-4,2],"nice":false,"zero":false},"axis":{"orient":"bottom","values":[-4,-3.5,-3,-2.5,-2,-1.5,-1,-0.5,0,0.5,1,1.5,2],"labels":false,"tickSize":6,"tickWidth":1.3,"domainWidth":2,"grid":false,"title":null,"domainColor":"#000","tickColor":"#000"}},"y":{"field":"c","type":"quantitative","scale":{"domain":[0,36.54],"nice":false},"axis":null}}},
  {"width":324,"height":95,
   "data":{"name":"h"},"transform":[{"filter":"datum.p=='B3'"},{"flatten":["t","c"]}],"mark":{"type":"bar","width":2.8,"xOffset":1.35,"color":"#000","opacity":1},"encoding":{"x":{"field":"t","type":"quantitative","scale":{"domain":[-4,2],"nice":false,"zero":false},"axis":{"orient":"bottom","values":[-4,-3.5,-3,-2.5,-2,-1.5,-1,-0.5,0,0.5,1,1.5,2],"labels":false,"tickSize":6,"tickWidth":1.3,"domainWidth":2,"grid":false,"title":null,"domainColor":"#000","tickColor":"#000"}},"y":{"field":"c","type":"quantitative","scale":{"domain":[0,36.54],"nice":false},"axis":null}}},
  {"width":324,"height":126,"layer":[
    {"data":{"name":"r"},"transform":[{"filter":"datum.p=='B1'"},{"flatten":["s"]}],"mark":{"type":"tick","orient":"vertical","size":4,"thickness":2,"color":"#000","opacity":1},"encoding":{"x":{"field":"s","type":"quantitative","scale":{"domain":[-4,2],"nice":false,"zero":false},"axis":null},"y":{"field":"r","type":"quantitative","scale":{"domain":[-0.733,25.3],"nice":false,"zero":false},"axis":null}}},
    {"data":{"name":"r"},"transform":[{"filter":"datum.p=='B1'"}],"mark":{"type":"tick","orient":"vertical","size":6,"thickness":1.5,"color":"#000","opacity":1},"encoding":{"x":{"field":"i","type":"quantitative","axis":null},"y":{"field":"r","type":"quantitative","axis":null}}},
    {"data":{"name":"fr"},"mark":{"type":"rule","strokeWidth":1.8,"color":"#000"},"encoding":{"x":{"field":"x","type":"quantitative","axis":null},"y":{"datum":0.3,"axis":null},"y2":{"datum":25.3}}}
  ]},
  {"width":324,"height":126,"layer":[
    {"data":{"name":"r"},"transform":[{"filter":"datum.p=='B2'"},{"flatten":["s"]}],"mark":{"type":"tick","orient":"vertical","size":4,"thickness":2,"color":"#000","opacity":1},"encoding":{"x":{"field":"s","type":"quantitative","scale":{"domain":[-4,2],"nice":false,"zero":false},"axis":null},"y":{"field":"r","type":"quantitative","scale":{"domain":[-0.733,25.3],"nice":false,"zero":false},"axis":null}}},
    {"data":{"name":"r"},"transform":[{"filter":"datum.p=='B2'"}],"mark":{"type":"tick","orient":"vertical","size":6,"thickness":1.5,"color":"#000","opacity":1},"encoding":{"x":{"field":"i","type":"quantitative","axis":null},"y":{"field":"r","type":"quantitative","axis":null}}},
    {"data":{"name":"fr"},"mark":{"type":"rule","strokeWidth":1.8,"color":"#000"},"encoding":{"x":{"field":"x","type":"quantitative","axis":null},"y":{"datum":0.3,"axis":null},"y2":{"datum":25.3}}}
  ]},
  {"width":324,"height":126,"layer":[
    {"data":{"name":"r"},"transform":[{"filter":"datum.p=='B3'"},{"flatten":["s"]}],"mark":{"type":"tick","orient":"vertical","size":4,"thickness":2,"color":"#000","opacity":1},"encoding":{"x":{"field":"s","type":"quantitative","scale":{"domain":[-4,2],"nice":false,"zero":false},"axis":null},"y":{"field":"r","type":"quantitative","scale":{"domain":[-0.733,25.3],"nice":false,"zero":false},"axis":null}}},
    {"data":{"name":"r"},"transform":[{"filter":"datum.p=='B3'"}],"mark":{"type":"tick","orient":"vertical","size":6,"thickness":1.5,"color":"#000","opacity":1},"encoding":{"x":{"field":"i","type":"quantitative","axis":null},"y":{"field":"r","type":"quantitative","axis":null}}},
    {"data":{"name":"fr"},"mark":{"type":"rule","strokeWidth":1.8,"color":"#000"},"encoding":{"x":{"field":"x","type":"quantitative","axis":null},"y":{"datum":0.3,"axis":null},"y2":{"datum":25.3}}}
  ]},
  {"width":324,"height":52,
   "resolve":{"axis":{"x":"independent","y":"independent"}},
   "layer":[
    {"data":{"name":"h"},"transform":[{"filter":"datum.p=='C1'"},{"flatten":["t","c"]}],"mark":{"type":"bar","width":2.8,"xOffset":1.35,"color":"#000","opacity":1},"encoding":{"x":{"field":"t","type":"quantitative","scale":{"domain":[-4,2],"nice":false,"zero":false},"axis":{"orient":"bottom","values":[-4,-3.5,-3,-2.5,-2,-1.5,-1,-0.5,0,0.5,1,1.5,2],"labels":false,"tickSize":6,"tickWidth":1.3,"domainWidth":2,"grid":false,"title":null,"domainColor":"#000","tickColor":"#000"}},"y":{"field":"c","type":"quantitative","scale":{"domain":[0,20],"nice":false},"axis":null}}},
    {"data":{"values":[{}]},"mark":{"type":"text","font":"Liberation Sans","fontSize":26,"align":"left","baseline":"alphabetic","dx":-6,"color":"#000"},"encoding":{"x":{"datum":-4,"axis":null},"y":{"datum":10.4,"axis":null},"text":{"value":"C"}}}
   ]},
  {"width":324,"height":52,
   "data":{"name":"h"},"transform":[{"filter":"datum.p=='C2'"},{"flatten":["t","c"]}],"mark":{"type":"bar","width":2.8,"xOffset":1.35,"color":"#000","opacity":1},"encoding":{"x":{"field":"t","type":"quantitative","scale":{"domain":[-4,2],"nice":false,"zero":false},"axis":{"orient":"bottom","values":[-4,-3.5,-3,-2.5,-2,-1.5,-1,-0.5,0,0.5,1,1.5,2],"labels":false,"tickSize":6,"tickWidth":1.3,"domainWidth":2,"grid":false,"title":null,"domainColor":"#000","tickColor":"#000"}},"y":{"field":"c","type":"quantitative","scale":{"domain":[0,20],"nice":false},"axis":null}}},
  {"width":324,"height":52,
   "data":{"name":"h"},"transform":[{"filter":"datum.p=='C3'"},{"flatten":["t","c"]}],"mark":{"type":"bar","width":2.8,"xOffset":1.35,"color":"#000","opacity":1},"encoding":{"x":{"field":"t","type":"quantitative","scale":{"domain":[-4,2],"nice":false,"zero":false},"axis":{"orient":"bottom","values":[-4,-3.5,-3,-2.5,-2,-1.5,-1,-0.5,0,0.5,1,1.5,2],"labels":false,"tickSize":6,"tickWidth":1.3,"domainWidth":2,"grid":false,"title":null,"domainColor":"#000","tickColor":"#000"}},"y":{"field":"c","type":"quantitative","scale":{"domain":[0,20],"nice":false},"axis":{"orient":"right","values":[0,20],"tickSize":4,"tickWidth":1.3,"domain":true,"domainWidth":1.3,"domainColor":"#000","tickColor":"#000","labelFont":"Liberation Sans","labelFontSize":16,"labelColor":"#000","labelPadding":2,"offset":3,"grid":false,"title":null,"labelBaseline":"middle"}}}},
  {"width":324,"height":121,
   "resolve":{"axis":{"x":"independent","y":"independent"}},
   "layer":[
    {"data":{"name":"r"},"transform":[{"filter":"datum.p=='C1'"},{"flatten":["s"]}],"mark":{"type":"tick","orient":"vertical","size":4,"thickness":2,"color":"#000","opacity":1},"encoding":{"x":{"field":"s","type":"quantitative","scale":{"domain":[-4,2],"nice":false,"zero":false},"axis":{"orient":"bottom","offset":7,"values":[-4,-3.5,-3,-2.5,-2,-1.5,-1,-0.5,0,0.5,1,1.5,2],"tickSize":6,"tickWidth":1.3,"domainWidth":1.5,"grid":false,"title":null,"labelFont":"DejaVu Sans","labelFontSize":13,"labelColor":"#000","labelPadding":3,"labelFlush":false,"labelOverlap":false,"labelBound":false,"labelExpr":"datum.value % 1 != 0 ? '' : (datum.value < 0 ? '- ' + (-datum.value) : '' + datum.value)","domainColor":"#000","tickColor":"#000"}},"y":{"field":"r","type":"quantitative","scale":{"domain":[0.3,25.3],"nice":false,"zero":false},"axis":null}}},
    {"data":{"name":"r"},"transform":[{"filter":"datum.p=='C1'"}],"mark":{"type":"tick","orient":"vertical","size":6,"thickness":1.5,"color":"#000","opacity":1},"encoding":{"x":{"field":"i","type":"quantitative","axis":null},"y":{"field":"r","type":"quantitative","axis":null}}},
    {"data":{"name":"fr"},"mark":{"type":"rule","strokeWidth":1.8,"color":"#000"},"encoding":{"x":{"field":"x","type":"quantitative","axis":null},"y":{"datum":0.3,"axis":null},"y2":{"datum":25.3}}},
    {"data":{"name":"ar"},"transform":[{"filter":"datum.p=='C1'"}],"mark":{"type":"rule","strokeWidth":1.5,"color":"#000"},"encoding":{"x":{"field":"a","type":"quantitative","axis":null},"y":{"datum":-6.2,"axis":null},"y2":{"datum":-8.3}}},
    {"data":{"name":"ar"},"transform":[{"filter":"datum.p=='C1'"}],"mark":{"type":"point","shape":"triangle-up","filled":true,"size":30,"color":"#000","opacity":1},"encoding":{"x":{"field":"a","type":"quantitative","axis":null},"y":{"datum":-5.8,"axis":null}}},
    {"data":{"name":"br"},"transform":[{"filter":"datum.p=='C1'"}],"mark":{"type":"rule","strokeWidth":1.5,"color":"#000"},"encoding":{"x":{"field":"a","type":"quantitative","axis":null},"x2":{"field":"b"},"y":{"datum":-8.3,"axis":null}}},
    {"data":{"name":"br"},"transform":[{"filter":"datum.p=='C1'"}],"mark":{"type":"text","font":"DejaVu Sans","fontSize":16,"baseline":"alphabetic","align":"center","color":"#000"},"encoding":{"x":{"field":"m","type":"quantitative","axis":null},"y":{"datum":-12,"axis":null},"text":{"value":"instruction"}}},
    {"data":{"values":[{}]},"mark":{"type":"point","shape":"triangle-up","filled":false,"size":190,"strokeWidth":1.2,"color":"#000","opacity":1},"encoding":{"x":{"datum":0,"axis":null},"y":{"datum":-7.3,"axis":null}}},
    {"data":{"values":[{}]},"mark":{"type":"text","font":"DejaVu Sans","fontSize":16,"baseline":"alphabetic","align":"center","color":"#000"},"encoding":{"x":{"datum":0,"axis":null},"y":{"datum":-12,"axis":null},"text":{"value":"TRIGGER"}}}
  ]},
  {"width":324,"height":121,
   "resolve":{"axis":{"x":"independent","y":"independent"}},
   "layer":[
    {"data":{"name":"r"},"transform":[{"filter":"datum.p=='C2'"},{"flatten":["s"]}],"mark":{"type":"tick","orient":"vertical","size":4,"thickness":2,"color":"#000","opacity":1},"encoding":{"x":{"field":"s","type":"quantitative","scale":{"domain":[-4,2],"nice":false,"zero":false},"axis":{"orient":"bottom","offset":7,"values":[-4,-3.5,-3,-2.5,-2,-1.5,-1,-0.5,0,0.5,1,1.5,2],"tickSize":6,"tickWidth":1.3,"domainWidth":1.5,"grid":false,"title":null,"labelFont":"DejaVu Sans","labelFontSize":13,"labelColor":"#000","labelPadding":3,"labelFlush":false,"labelOverlap":false,"labelBound":false,"labelExpr":"datum.value % 1 != 0 ? '' : (datum.value < 0 ? '- ' + (-datum.value) : '' + datum.value)","domainColor":"#000","tickColor":"#000"}},"y":{"field":"r","type":"quantitative","scale":{"domain":[0.3,25.3],"nice":false,"zero":false},"axis":null}}},
    {"data":{"name":"r"},"transform":[{"filter":"datum.p=='C2'"}],"mark":{"type":"tick","orient":"vertical","size":6,"thickness":1.5,"color":"#000","opacity":1},"encoding":{"x":{"field":"i","type":"quantitative","axis":null},"y":{"field":"r","type":"quantitative","axis":null}}},
    {"data":{"name":"fr"},"mark":{"type":"rule","strokeWidth":1.8,"color":"#000"},"encoding":{"x":{"field":"x","type":"quantitative","axis":null},"y":{"datum":0.3,"axis":null},"y2":{"datum":25.3}}},
    {"data":{"name":"ar"},"transform":[{"filter":"datum.p=='C2'"}],"mark":{"type":"rule","strokeWidth":1.5,"color":"#000"},"encoding":{"x":{"field":"a","type":"quantitative","axis":null},"y":{"datum":-6.2,"axis":null},"y2":{"datum":-8.3}}},
    {"data":{"name":"ar"},"transform":[{"filter":"datum.p=='C2'"}],"mark":{"type":"point","shape":"triangle-up","filled":true,"size":30,"color":"#000","opacity":1},"encoding":{"x":{"field":"a","type":"quantitative","axis":null},"y":{"datum":-5.8,"axis":null}}},
    {"data":{"name":"br"},"transform":[{"filter":"datum.p=='C2'"}],"mark":{"type":"rule","strokeWidth":1.5,"color":"#000"},"encoding":{"x":{"field":"a","type":"quantitative","axis":null},"x2":{"field":"b"},"y":{"datum":-8.3,"axis":null}}},
    {"data":{"name":"br"},"transform":[{"filter":"datum.p=='C2'"}],"mark":{"type":"text","font":"DejaVu Sans","fontSize":16,"baseline":"alphabetic","align":"center","color":"#000"},"encoding":{"x":{"field":"m","type":"quantitative","axis":null},"y":{"datum":-12,"axis":null},"text":{"value":"instruction"}}},
    {"data":{"values":[{}]},"mark":{"type":"point","shape":"triangle-up","filled":false,"size":190,"strokeWidth":1.2,"color":"#000","opacity":1},"encoding":{"x":{"datum":0,"axis":null},"y":{"datum":-7.3,"axis":null}}},
    {"data":{"values":[{}]},"mark":{"type":"text","font":"DejaVu Sans","fontSize":16,"baseline":"alphabetic","align":"center","color":"#000"},"encoding":{"x":{"datum":0,"axis":null},"y":{"datum":-12,"axis":null},"text":{"value":"TRIGGER"}}}
  ]},
  {"width":324,"height":121,
   "resolve":{"axis":{"x":"independent","y":"independent"}},
   "layer":[
    {"data":{"name":"r"},"transform":[{"filter":"datum.p=='C3'"},{"flatten":["s"]}],"mark":{"type":"tick","orient":"vertical","size":4,"thickness":2,"color":"#000","opacity":1},"encoding":{"x":{"field":"s","type":"quantitative","scale":{"domain":[-4,2],"nice":false,"zero":false},"axis":{"orient":"bottom","offset":7,"values":[-4,-3.5,-3,-2.5,-2,-1.5,-1,-0.5,0,0.5,1,1.5,2],"tickSize":6,"tickWidth":1.3,"domainWidth":1.5,"grid":false,"title":null,"labelFont":"DejaVu Sans","labelFontSize":13,"labelColor":"#000","labelPadding":3,"labelFlush":false,"labelOverlap":false,"labelBound":false,"labelExpr":"datum.value % 1 != 0 ? '' : (datum.value < 0 ? '- ' + (-datum.value) : (datum.value == 2 ? '2s' : '' + datum.value))","domainColor":"#000","tickColor":"#000"}},"y":{"field":"r","type":"quantitative","scale":{"domain":[0.3,25.3],"nice":false,"zero":false},"axis":null}}},
    {"data":{"name":"r"},"transform":[{"filter":"datum.p=='C3'"}],"mark":{"type":"tick","orient":"vertical","size":6,"thickness":1.5,"color":"#000","opacity":1},"encoding":{"x":{"field":"i","type":"quantitative","axis":null},"y":{"field":"r","type":"quantitative","axis":null}}},
    {"data":{"name":"fr"},"mark":{"type":"rule","strokeWidth":1.8,"color":"#000"},"encoding":{"x":{"field":"x","type":"quantitative","axis":null},"y":{"datum":0.3,"axis":null},"y2":{"datum":25.3}}},
    {"data":{"name":"ar"},"transform":[{"filter":"datum.p=='C3'"}],"mark":{"type":"rule","strokeWidth":1.5,"color":"#000"},"encoding":{"x":{"field":"a","type":"quantitative","axis":null},"y":{"datum":-6.2,"axis":null},"y2":{"datum":-8.3}}},
    {"data":{"name":"ar"},"transform":[{"filter":"datum.p=='C3'"}],"mark":{"type":"point","shape":"triangle-up","filled":true,"size":30,"color":"#000","opacity":1},"encoding":{"x":{"field":"a","type":"quantitative","axis":null},"y":{"datum":-5.8,"axis":null}}},
    {"data":{"name":"br"},"transform":[{"filter":"datum.p=='C3'"}],"mark":{"type":"rule","strokeWidth":1.5,"color":"#000"},"encoding":{"x":{"field":"a","type":"quantitative","axis":null},"x2":{"field":"b"},"y":{"datum":-8.3,"axis":null}}},
    {"data":{"name":"br"},"transform":[{"filter":"datum.p=='C3'"}],"mark":{"type":"text","font":"DejaVu Sans","fontSize":16,"baseline":"alphabetic","align":"center","color":"#000"},"encoding":{"x":{"field":"m","type":"quantitative","axis":null},"y":{"datum":-12,"axis":null},"text":{"value":"instruction"}}},
    {"data":{"values":[{}]},"mark":{"type":"point","shape":"triangle-up","filled":false,"size":190,"strokeWidth":1.2,"color":"#000","opacity":1},"encoding":{"x":{"datum":0,"axis":null},"y":{"datum":-7.3,"axis":null}}},
    {"data":{"values":[{}]},"mark":{"type":"text","font":"DejaVu Sans","fontSize":16,"baseline":"alphabetic","align":"center","color":"#000"},"encoding":{"x":{"datum":0,"axis":null},"y":{"datum":-12,"axis":null},"text":{"value":"TRIGGER"}}}
  ]}
]
}
